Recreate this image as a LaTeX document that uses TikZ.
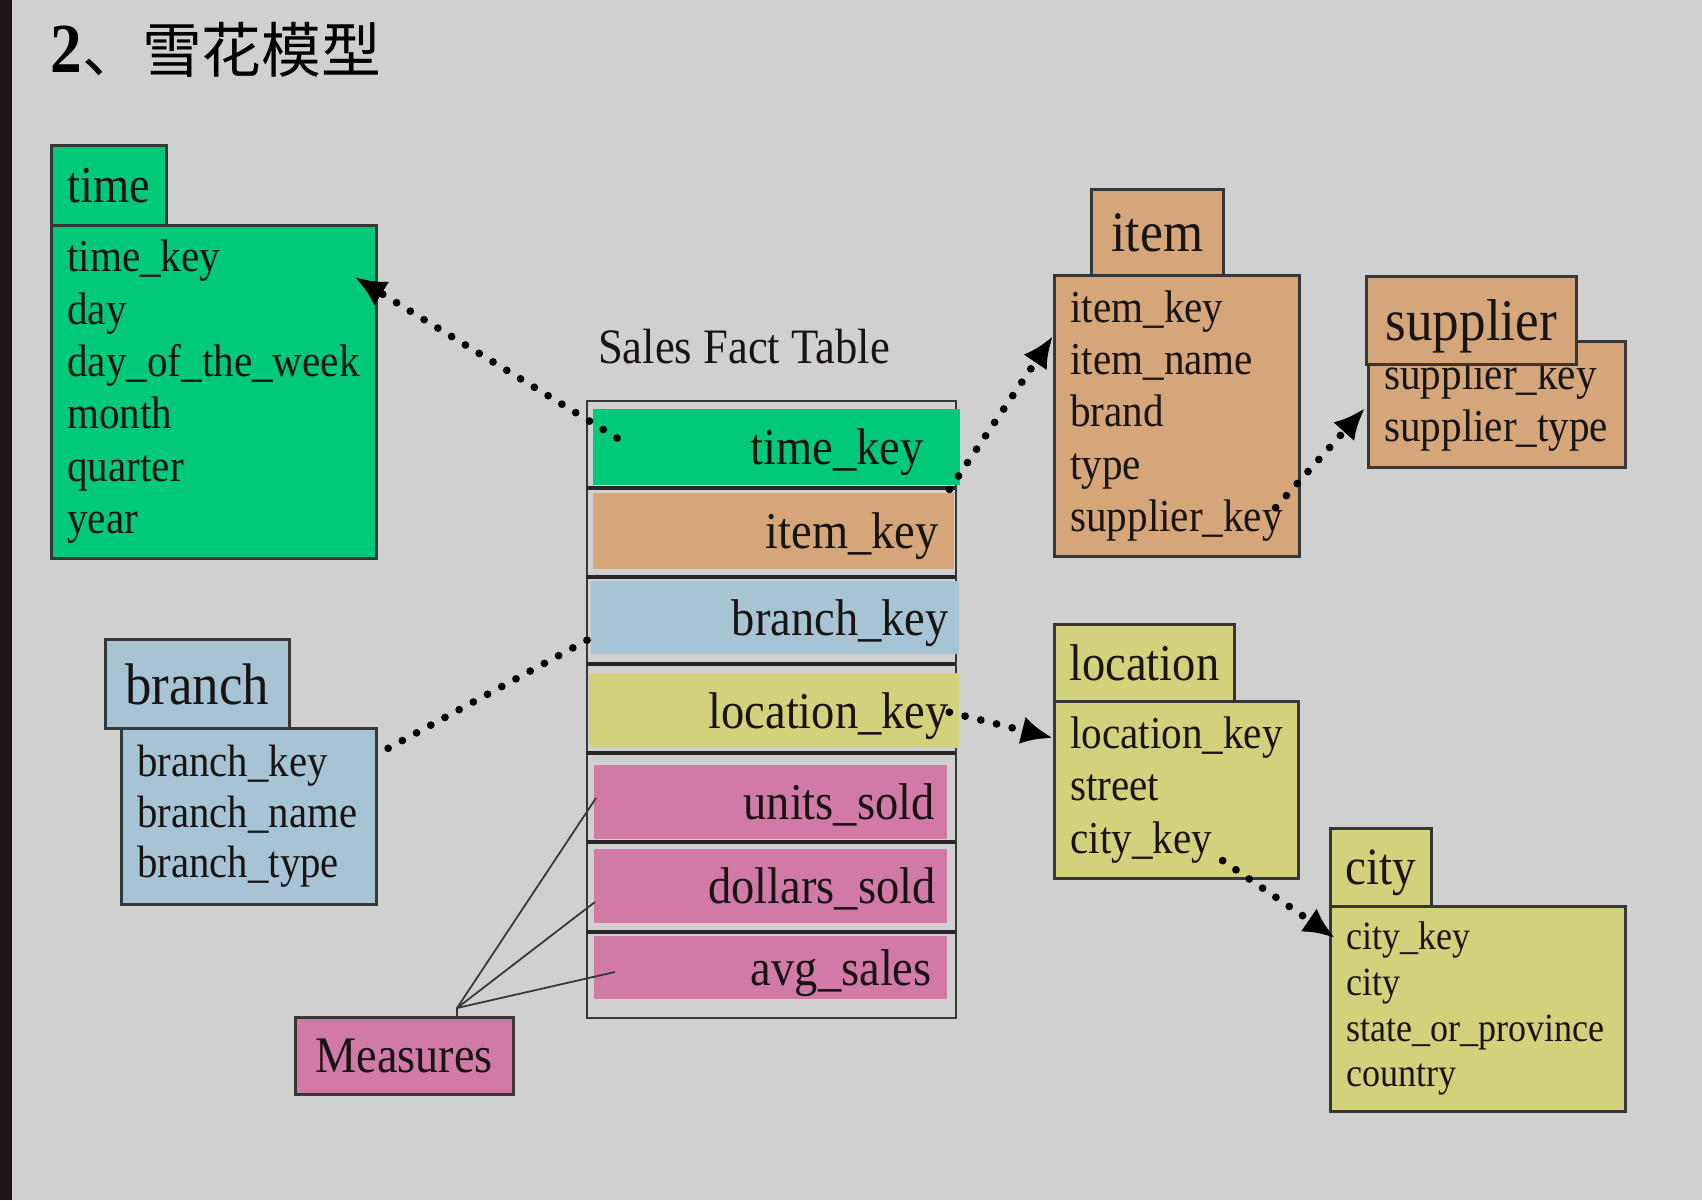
\documentclass[tikz,border=0pt]{standalone}
\usepackage{fontspec}
\setmainfont{Liberation Serif}[FakeStretch=0.9]
\newfontfamily\cjk{Noto Sans CJK SC}
\usetikzlibrary{arrows.meta}

\newdimen\pxu \pxu=0.1mm

\definecolor{bgcol}{RGB}{208,208,208}
\definecolor{edgecol}{RGB}{30,22,22}
\definecolor{boxline}{RGB}{55,55,55}
\definecolor{ink}{RGB}{25,20,20}
\definecolor{timeg}{RGB}{0,202,122}
\definecolor{itemtan}{RGB}{212,166,122}
\definecolor{branchblue}{RGB}{166,196,212}
\definecolor{locyellow}{RGB}{210,210,124}
\definecolor{measpink}{RGB}{210,122,166}

\newcommand\fieldfont{\fontsize{13}{14.9}\selectfont}
\newcommand\factfont{\fontsize{14.7}{14.7}\selectfont}

\tikzset{
  tbl/.style={draw=boxline, line width=0.75pt, inner sep=0pt, anchor=north west, text=ink},
  hdr/.style={tbl, text depth=0pt},
  fields/.style={tbl, align=left, inner xsep=16\pxu, inner ysep=0pt, font=\fieldfont},
  factrow/.style={inner ysep=0pt, anchor=north west, align=right, text=ink, text depth=0pt, font=\factfont},
  rowsep/.style={draw=black!85, line width=0.9pt},
  fk/.style={line width=2.2pt, dash pattern=on 0pt off 4.6pt, line cap=round},
  fkarrow/.style={fk, -{Latex[length=9pt,width=8pt]}},
  measline/.style={draw=boxline, line width=0.5pt}
}

\begin{document}
\begin{tikzpicture}[x=0.1mm, y=-0.1mm]
\useasboundingbox (0,0) rectangle (1702,1200);
\fill[bgcol] (0,0) rectangle (1702,1200);
\fill[edgecol] (0,0) rectangle (12,1200);

% title
\node[anchor=base west, inner sep=0pt, text=black] (title) at (50,73)
  {\fontsize{20}{20}\selectfont\textbf{2}\cjk\fontsize{17}{17}\selectfont 、雪花模型};

% time dimension
\node[fields, fill=timeg, text width=293\pxu, minimum height=333\pxu] (timebody) at (50,224)
  {time\_key\\day\\day\_of\_the\_week\\month\\quarter\\year};
\node[hdr, fill=timeg, minimum width=115\pxu, minimum height=80\pxu, font=\fontsize{14.7}{14.7}\selectfont] (timehead) at (50,144) {time};

% branch dimension
\node[fields, fill=branchblue, text width=223\pxu, minimum height=176\pxu, font=\fontsize{12.9}{14.4}\selectfont] (branchbody) at (120,727)
  {branch\_key\\branch\_name\\branch\_type};
\node[hdr, fill=branchblue, minimum width=184\pxu, minimum height=89\pxu, font=\fontsize{16.7}{16.7}\selectfont] (branchhead) at (104,638) {branch};

% measures
\node[hdr, fill=measpink, minimum width=218\pxu, minimum height=77\pxu, font=\fontsize{14.6}{14.6}\selectfont] (meas) at (294,1016) {Measures};

% fact table
\node[font=\fontsize{14.1}{14.1}\selectfont, text=ink] (facttitle) at (744,347) {Sales Fact Table};
\node[draw=boxline, line width=0.6pt, inner sep=0pt, anchor=north west, minimum width=369\pxu, minimum height=617\pxu] (fact) at (586,400) {};
\foreach \y in {488,577,664,753,842,932}
  \draw[rowsep] (586,\y) -- (955,\y);
\node[factrow, fill=timeg, inner xsep=36\pxu, text width=295\pxu, minimum height=76\pxu] (ftime) at (592,408) {time\_key};
\node[factrow, fill=itemtan, inner xsep=15\pxu, text width=331\pxu, minimum height=76\pxu] (fitem) at (592,492) {item\_key};
\node[factrow, fill=branchblue, inner xsep=10\pxu, text width=348\pxu, minimum height=73\pxu] (fbranch) at (590,580) {branch\_key};
\node[factrow, fill=locyellow, inner xsep=10\pxu, text width=350\pxu, minimum height=75\pxu] (floc) at (588,672) {location\_key};
\node[factrow, fill=measpink, inner xsep=12\pxu, text width=329\pxu, minimum height=74\pxu] (funits) at (593,764) {units\_sold};
\node[factrow, fill=measpink, inner xsep=11\pxu, text width=331\pxu, minimum height=74\pxu] (fdollars) at (593,848) {dollars\_sold};
\node[factrow, fill=measpink, inner xsep=15\pxu, text width=323\pxu, minimum height=63\pxu] (favg) at (593,935) {avg\_sales};

% item dimension
\node[fields, fill=itemtan, text width=213\pxu, minimum height=281\pxu] (itembody) at (1053,274)
  {item\_key\\item\_name\\brand\\type\\supplier\_key};
\node[hdr, fill=itemtan, minimum width=132\pxu, minimum height=86\pxu, font=\fontsize{16.3}{16.3}\selectfont] (itemhead) at (1090,188) {item};

% supplier dimension
\node[fields, fill=itemtan, text width=225\pxu, minimum height=126\pxu] (supbody) at (1367,340)
  {supplier\_key\\supplier\_type};
\node[hdr, fill=itemtan, minimum width=210\pxu, minimum height=88\pxu, font=\fontsize{16.8}{16.8}\selectfont] (suphead) at (1365,275) {supplier};

% location dimension
\node[fields, fill=locyellow, text width=212\pxu, minimum height=177\pxu] (locbody) at (1053,700)
  {location\_key\\street\\city\_key};
\node[hdr, fill=locyellow, minimum width=180\pxu, minimum height=77\pxu, font=\fontsize{14.7}{14.7}\selectfont] (lochead) at (1053,623) {location};

% city dimension
\node[fields, fill=locyellow, text width=263\pxu, minimum height=205\pxu, font=\fontsize{11.4}{13}\selectfont] (citybody) at (1329,905)
  {city\_key\\city\\state\_or\_province\\country};
\node[hdr, fill=locyellow, minimum width=101\pxu, minimum height=78\pxu, font=\fontsize{14.9}{14.9}\selectfont] (cityhead) at (1329,827) {city};

% measures pointers
\coordinate (mfan) at ([shift={(163,-8)}]meas.north west);
\draw[measline] (mfan) -- ([shift={(3,34)}]funits.north west);
\draw[measline] (mfan) -- ([shift={(2,54)}]fdollars.north west);
\draw[measline] (mfan) -- ([shift={(22,37)}]favg.north west);
\draw[measline] (mfan) -- (mfan |- meas.north);

% foreign keys
\draw[fkarrow] ([shift={(25,30)}]ftime.north west) -- ([shift={(-23,53)}]timebody.north east);
\draw[fkarrow] ([shift={(-11,4)}]ftime.south east) -- ([shift={(0,62)}]itembody.north west);
\draw[fkarrow] ([shift={(-25,-50)}]itembody.south east) -- ([shift={(-2,68)}]supbody.north west);
\draw[fk] ([shift={(-3,23)}]fbranch.west) -- ([shift={(0,27)}]branchbody.north east);
\draw[fkarrow] ([shift={(-10,2)}]floc.east) -- ([shift={(0,38)}]locbody.north west);
\draw[fkarrow] ([shift={(-77,-19)}]locbody.south east) -- ([shift={(6,33)}]citybody.north west);
\end{tikzpicture}
\end{document}
